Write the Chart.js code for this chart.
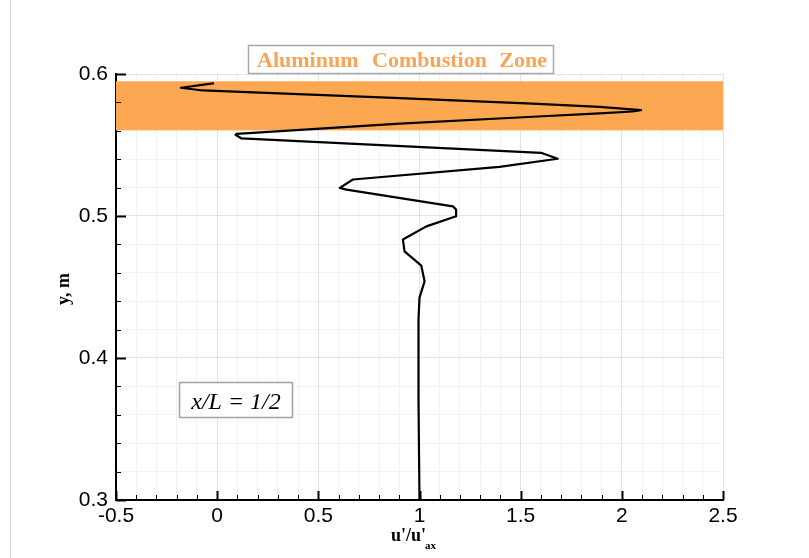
<!DOCTYPE html>
<html>
<head>
<meta charset="utf-8">
<script src="https://cdn.jsdelivr.net/npm/chart.js@4.4.1/dist/chart.umd.min.js"></script>
<style>
  html, body { margin: 0; padding: 0; background: #fff; }
  #wrap { position: relative; width: 809px; height: 558px; }
</style>
</head>
<body>
<div id="wrap"><canvas id="chart"></canvas></div>
<script>
// u'/u'ax profile at x/L = 1/2 (top to bottom)
const profileU = [-0.020, -0.179, -0.071, 0.902, 1.558, 1.889, 2.095, 2.053, 1.889, 1.560, 0.902, 0.096, 0.091, 0.120,
                  1.601, 1.683, 1.395, 0.671, 0.606, 0.639, 1.165, 1.181, 1.181, 1.034, 0.918, 0.926, 1.009, 1.025,
                  1.000, 0.995, 0.995, 1.000];
const profileY = [0.5934, 0.5903, 0.5884, 0.5830, 0.5791, 0.5768, 0.5745, 0.5736, 0.5723, 0.5699, 0.5650, 0.5579, 0.5572, 0.5546,
                  0.5445, 0.5403, 0.5346, 0.5257, 0.5198, 0.5186, 0.5068, 0.5045, 0.4998, 0.4927, 0.4834, 0.4751, 0.4650, 0.4540,
                  0.4425, 0.4269, 0.3705, 0.3000];

// combustion zone band (y limits)
const zoneY = [0.5604, 0.5949];

const xRange = [-0.5, 2.5];
const yRange = [0.3, 0.6];
const xTickLabels = [-0.5, 0, 0.5, 1, 1.5, 2, 2.5];
const yTickLabels = [0.3, 0.4, 0.5, 0.6];

const zoneWords = ['Aluminum', 'Combustion', 'Zone'];
const stationLabel = 'x/L = 1/2';

const ORANGE = '#fca852';

function isLabelled(v, list) {
    return list.some(t => Math.abs(t - v) < 1e-6);
}

// ticks drawn inward, like the original plot
const innerTicks = {
    id: 'innerTicks',
    afterDatasetsDraw(chart) {
        const { ctx, chartArea: a, scales: { x, y } } = chart;
        ctx.save();
        ctx.strokeStyle = '#000';
        x.ticks.forEach(t => {
            const major = isLabelled(t.value, xTickLabels);
            const px = Math.round(x.getPixelForValue(t.value)) + 0.5;
            ctx.lineWidth = major ? 2 : 1;
            ctx.beginPath();
            ctx.moveTo(px, a.bottom);
            ctx.lineTo(px, a.bottom - (major ? 9 : 5));
            ctx.stroke();
        });
        y.ticks.forEach(t => {
            const major = isLabelled(t.value, yTickLabels);
            const py = Math.round(y.getPixelForValue(t.value)) + 0.5;
            ctx.lineWidth = major ? 2 : 1;
            ctx.beginPath();
            ctx.moveTo(a.left, py);
            ctx.lineTo(a.left + (major ? 10 : 5), py);
            ctx.stroke();
        });
        ctx.restore();
    }
};

const labels = {
    id: 'labels',
    beforeDraw(chart) {
        const ctx = chart.ctx;
        ctx.save();
        ctx.strokeStyle = '#d4d4d4';
        ctx.lineWidth = 1;
        ctx.beginPath();
        ctx.moveTo(10.5, 0);
        ctx.lineTo(10.5, 558);
        ctx.stroke();
        ctx.restore();
    },
    afterDraw(chart) {
        const ctx = chart.ctx;
        ctx.save();

        // zone title box
        ctx.fillStyle = '#fff';
        ctx.fillRect(248.5, 45.5, 305, 28);
        ctx.strokeStyle = '#a8a8a8';
        ctx.lineWidth = 1.5;
        ctx.strokeRect(248.5, 45.5, 305, 28);
        ctx.fillStyle = '#f9a456';
        ctx.font = 'bold 22px "Liberation Serif", serif';
        ctx.textBaseline = 'alphabetic';
        ctx.textAlign = 'left';
        ctx.fillText(zoneWords[0], 257, 67);
        ctx.fillText(zoneWords[1], 372, 67);
        ctx.textAlign = 'right';
        ctx.fillText(zoneWords[2], 547, 67);

        // station box
        ctx.fillStyle = '#fff';
        ctx.fillRect(179.5, 382.5, 113, 35);
        ctx.strokeStyle = '#a0a0a0';
        ctx.strokeRect(179.5, 382.5, 113, 35);
        ctx.fillStyle = '#000';
        ctx.font = 'italic 24px "Liberation Serif", serif';
        ctx.textAlign = 'center';
        ctx.fillText(stationLabel, 236, 409);

        // y axis title
        ctx.save();
        ctx.translate(69, 289);
        ctx.rotate(-Math.PI / 2);
        ctx.font = 'bold 18px "Liberation Serif", serif';
        ctx.textAlign = 'center';
        ctx.fillText('y, m', 0, 0);
        ctx.restore();

        // x axis title with subscript
        ctx.font = 'bold 18px "Liberation Serif", serif';
        ctx.textAlign = 'left';
        ctx.fillText("u'/u'", 391, 541);
        const w = ctx.measureText("u'/u'").width;
        ctx.font = 'bold 11px "Liberation Serif", serif';
        ctx.fillText('ax', 391 + w - 1, 549);

        ctx.restore();
    }
};

const ctx = document.getElementById('chart').getContext('2d');
new Chart(ctx, {
    type: 'line',
    data: {
        datasets: [
            {
                label: "u'/u'ax",
                data: profileU.map((u, i) => ({ x: u, y: profileY[i] })),
                borderColor: '#000',
                borderWidth: 2.2,
                borderJoinStyle: 'round',
                borderCapStyle: 'round',
                pointRadius: 0,
                tension: 0,
                fill: false
            },
            {
                label: 'zone low',
                data: xRange.map(x => ({ x, y: zoneY[0] })),
                borderWidth: 0,
                pointRadius: 0,
                fill: false
            },
            {
                label: 'zone high',
                data: xRange.map(x => ({ x, y: zoneY[1] })),
                borderWidth: 0,
                pointRadius: 0,
                backgroundColor: ORANGE,
                fill: '-1'
            }
        ]
    },
    options: {
        responsive: true,
        maintainAspectRatio: false,
        animation: false,
        layout: { padding: { top: 74, right: 86, bottom: 0, left: 0 } },
        plugins: { legend: { display: false }, tooltip: { enabled: false } },
        scales: {
            x: {
                type: 'linear',
                min: xRange[0],
                max: xRange[1],
                afterFit(scale) { scale.height = 58; },
                ticks: {
                    stepSize: 0.1,
                    autoSkip: false,
                    maxRotation: 0,
                    padding: 4,
                    color: '#000',
                    font: { family: '"Liberation Sans", Arial, sans-serif', size: 21 },
                    callback: v => isLabelled(v, xTickLabels) ? String(Math.round(v * 10) / 10) : ''
                },
                grid: {
                    drawTicks: false,
                    color: c => isLabelled(c.tick.value, xTickLabels) ? 'rgba(0,0,0,0.11)' : 'rgba(0,0,0,0.05)'
                },
                border: { display: true, color: '#000', width: 2 }
            },
            y: {
                type: 'linear',
                min: yRange[0],
                max: yRange[1],
                afterFit(scale) { scale.width = 116; },
                ticks: {
                    stepSize: 0.02,
                    autoSkip: false,
                    padding: 8,
                    color: '#000',
                    font: { family: '"Liberation Sans", Arial, sans-serif', size: 21 },
                    callback: v => isLabelled(v, yTickLabels) ? v.toFixed(1) : ''
                },
                grid: {
                    drawTicks: false,
                    color: c => isLabelled(c.tick.value, yTickLabels) ? 'rgba(0,0,0,0.11)' : 'rgba(0,0,0,0.05)'
                },
                border: { display: true, color: '#000', width: 2 }
            }
        }
    },
    plugins: [innerTicks, labels]
});
</script>
</body>
</html>
